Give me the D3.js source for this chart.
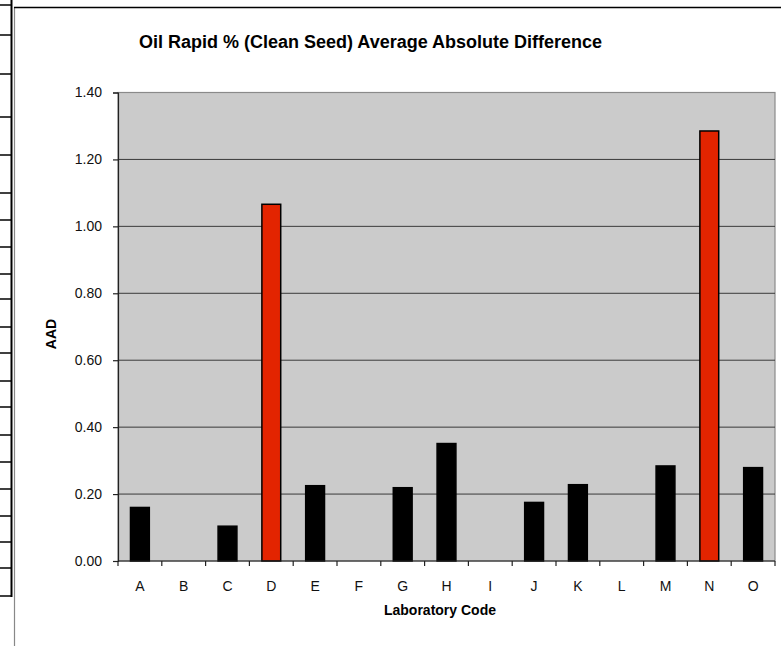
<!DOCTYPE html>
<html>
<head>
<meta charset="utf-8">
<script src="https://cdn.jsdelivr.net/npm/d3@7"></script>
<style>
  body { margin: 0; background: #fff; }
  text { font-family: "Liberation Sans", Arial, sans-serif; }
</style>
</head>
<body>
<div id="chart"></div>
<script>
// chart data
var labs = ["A", "B", "C", "D", "E", "F", "G", "H", "I", "J", "K", "L", "M", "N", "O"];
var aad = [0.16, null, 0.104, 1.066, 0.225, null, 0.219, 0.351, null, 0.175, 0.228, null, 0.284, 1.285, 0.279];
var flagged = ["D", "N"];
var yTicks = [0, 0.2, 0.4, 0.6, 0.8, 1.0, 1.2, 1.4];

var W = 781, H = 646;
var margin = { top: 92.5, right: 6, bottom: 85, left: 118 };
var width = W - margin.left - margin.right;
var height = H - margin.top - margin.bottom;

var svg = d3.select("#chart").append("svg")
    .attr("width", W)
    .attr("height", H);

// worksheet bits round the chart
var rowLines = [5, 35, 74, 117, 155, 193, 220, 247, 274, 299, 327, 353, 381, 407, 435, 462, 489, 516, 542, 568, 596];
svg.selectAll(".row")
    .data(rowLines)
    .enter().append("line")
    .attr("x1", 0).attr("x2", 12)
    .attr("y1", function(d) { return d; })
    .attr("y2", function(d) { return d; })
    .attr("stroke", "#000").attr("stroke-width", 1.5);
svg.append("line")
    .attr("x1", 11.5).attr("x2", 11.5).attr("y1", 0).attr("y2", 597)
    .attr("stroke", "#000").attr("stroke-width", 2);
svg.append("line")
    .attr("x1", 14.5).attr("x2", 14.5).attr("y1", 7).attr("y2", H)
    .attr("stroke", "#888").attr("stroke-width", 1.2);
svg.append("line")
    .attr("x1", 14).attr("x2", W).attr("y1", 7.5).attr("y2", 7.5)
    .attr("stroke", "#000").attr("stroke-width", 1.5);

var g = svg.append("g")
    .attr("transform", "translate(" + margin.left + "," + margin.top + ")");

var x = d3.scaleBand()
    .domain(labs)
    .range([0, width])
    .padding(0);

var y = d3.scaleLinear()
    .domain([0, 1.4])
    .range([height, 0]);

// plot area
g.append("rect")
    .attr("width", width)
    .attr("height", height)
    .attr("fill", "#cbcbcb")
    .attr("stroke", "#8a8a8a")
    .attr("stroke-width", 1.2);

// gridlines
g.selectAll(".grid")
    .data(yTicks.slice(1, -1))
    .enter().append("line")
    .attr("class", "grid")
    .attr("x1", 0).attr("x2", width)
    .attr("y1", function(d) { return y(d); })
    .attr("y2", function(d) { return y(d); })
    .attr("stroke", "#3a3a3a")
    .attr("stroke-width", 1);

// bars
var barW = x.bandwidth() * 0.43;
g.selectAll(".bar")
    .data(labs.filter(function(d, i) { return aad[i] != null; }))
    .enter().append("rect")
    .attr("class", "bar")
    .attr("x", function(d) { return x(d) + (x.bandwidth() - barW) / 2; })
    .attr("y", function(d) { return y(aad[labs.indexOf(d)]); })
    .attr("width", barW)
    .attr("height", function(d) { return height - y(aad[labs.indexOf(d)]); })
    .attr("fill", function(d) { return flagged.indexOf(d) >= 0 ? "#e32400" : "#000"; })
    .attr("stroke", "#000")
    .attr("stroke-width", 1.5);

// y axis
var yAxis = d3.axisLeft(y)
    .tickValues(yTicks)
    .tickFormat(d3.format(".2f"))
    .tickSize(5)
    .tickPadding(11);
var ya = g.append("g").attr("class", "y-axis").call(yAxis);
ya.select(".domain").attr("stroke", "#222").attr("stroke-width", 1.2);
ya.selectAll(".tick line").attr("stroke", "#222").attr("stroke-width", 1.2);
ya.selectAll("text").attr("font-size", 14).attr("fill", "#111");

// x axis: ticks on category edges, labels centred
var xa = g.append("g").attr("transform", "translate(0," + height + ")");
xa.append("line")
    .attr("x1", 0).attr("x2", width)
    .attr("stroke", "#222").attr("stroke-width", 1.2);
xa.selectAll(".edge")
    .data(labs.concat(["end"]))
    .enter().append("line")
    .attr("x1", function(d) { return d == "end" ? width : x(d); })
    .attr("x2", function(d) { return d == "end" ? width : x(d); })
    .attr("y1", 0).attr("y2", 5)
    .attr("stroke", "#222").attr("stroke-width", 1.2);
xa.selectAll(".lab")
    .data(labs)
    .enter().append("text")
    .attr("x", function(d) { return x(d) + x.bandwidth() / 2; })
    .attr("y", 30)
    .attr("text-anchor", "middle")
    .attr("font-size", 14)
    .attr("fill", "#111")
    .text(function(d) { return d; });

// titles
svg.append("text")
    .attr("x", 370.5).attr("y", 48)
    .attr("text-anchor", "middle")
    .attr("font-size", 18)
    .attr("font-weight", "bold")
    .text("Oil Rapid % (Clean Seed) Average Absolute Difference");

svg.append("text")
    .attr("x", 440).attr("y", 615)
    .attr("text-anchor", "middle")
    .attr("font-size", 14)
    .attr("font-weight", "bold")
    .text("Laboratory Code");

svg.append("text")
    .attr("transform", "translate(56,334) rotate(-90)")
    .attr("text-anchor", "middle")
    .attr("font-size", 14)
    .attr("font-weight", "bold")
    .text("AAD");
</script>
</body>
</html>
